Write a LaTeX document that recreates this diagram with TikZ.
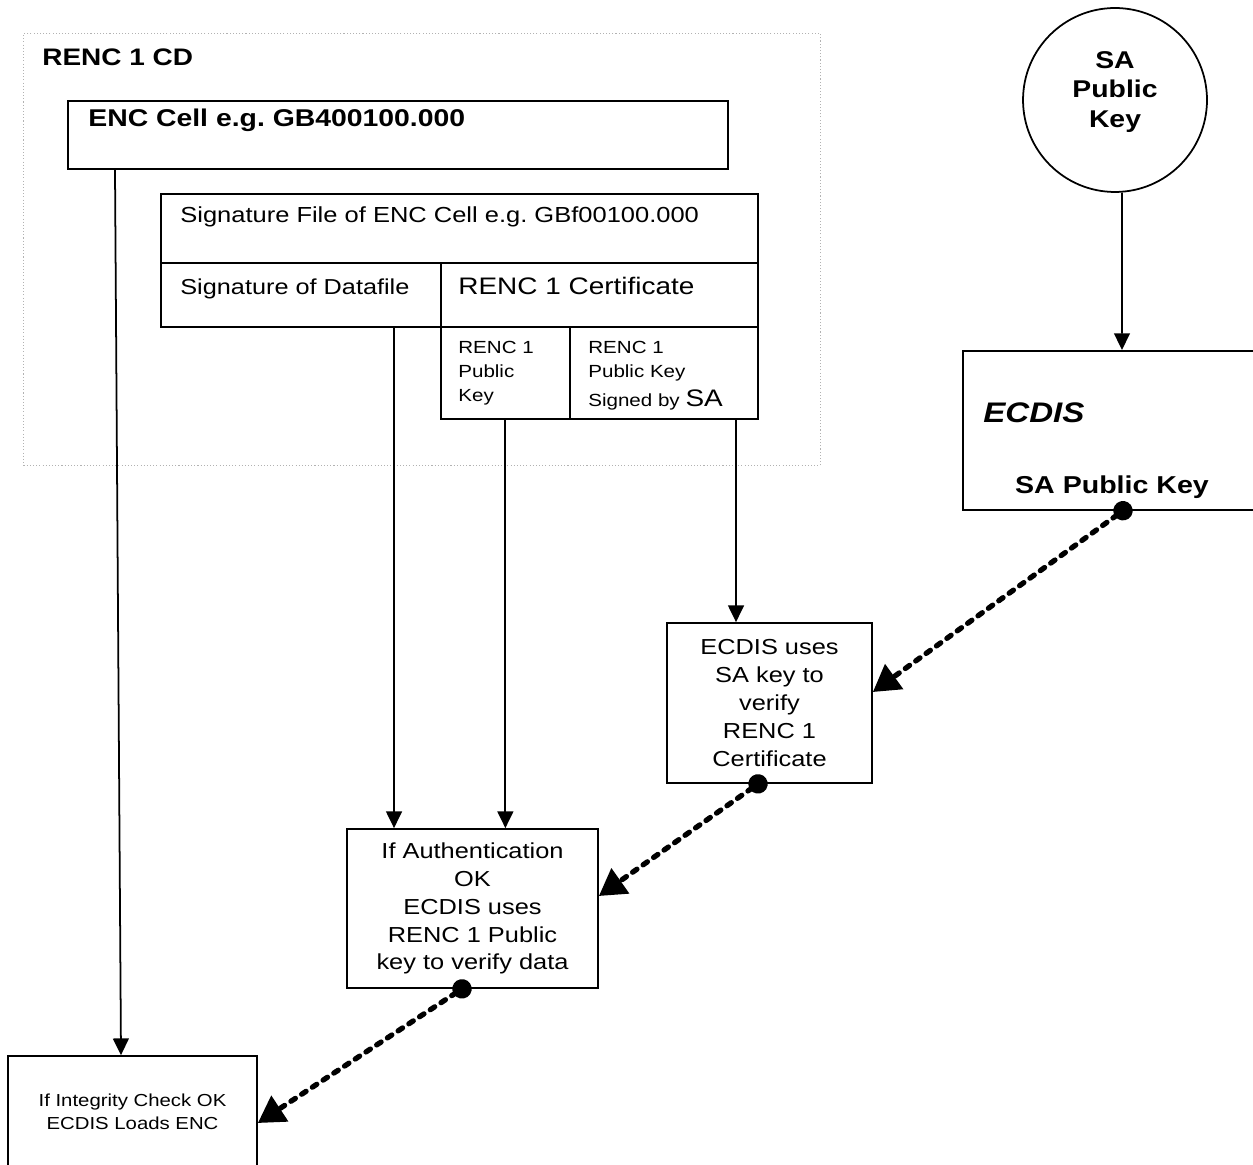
\documentclass[tikz,border=0pt]{standalone}
\usepackage{fontspec}
\setmainfont{Liberation Sans}[FakeStretch = 1.17]
\frenchspacing
\usetikzlibrary{arrows.meta}

\tikzset{
    box/.style = {draw, line width = 1pt, inner sep = 0pt, anchor = north west},
    cdbox/.style = {draw = gray!60, line width = 0.6pt, dash pattern = on 0.6pt off 1.2pt},
    txt/.style = {inner sep = 0pt, anchor = base west},
    arr/.style = {-{Triangle[length = 9.5pt, width = 9pt]}, line width = 1pt},
    dasharr/.style = {{Circle[length = 11pt]}-{Triangle[length = 15pt, width = 17pt]},
        line width = 3pt, dash pattern = on 3pt off 4.3pt, line cap = round, shorten <= -5.5pt}
}

\begin{document}
\begin{tikzpicture}[x = 0.02cm, y = -0.02cm]
        \useasboundingbox (0, 0) rectangle (1253, 1165);
        % the CD and its files
        \node[box, cdbox, minimum width = 15.94cm, minimum height = 8.64cm] (cd) at (23, 33) {};
        \node[txt, font = \fontsize{13.6}{16}\selectfont\bfseries] (cdtxt) at (42, 66) {RENC 1 CD};
        \node[box, minimum width = 13.2cm, minimum height = 1.36cm] (enc) at (67, 100) {};
        \node[txt, font = \fontsize{13.8}{16}\selectfont\bfseries] (enctxt) at (88, 127) {ENC Cell e.g. GB400100.000};
        \node[box, minimum width = 11.94cm, minimum height = 1.38cm] (sigfile) at (160, 193) {};
        \node[txt, font = \fontsize{12.4}{15}\selectfont] (sigfiletxt) at (180, 223) {Signature File of ENC Cell e.g. GBf00100.000};
        \node[box, minimum width = 5.6cm, minimum height = 1.28cm] (sigdata) at (160, 262) {};
        \node[txt, font = \fontsize{12.3}{15}\selectfont] (sigdatatxt) at (180, 295) {Signature of Datafile};
        \node[box, minimum width = 6.34cm, minimum height = 1.28cm] (cert) at (440, 262) {};
        \node[txt, font = \fontsize{13.6}{16}\selectfont] (certtxt) at (458, 295) {RENC 1 Certificate};
        \node[box, minimum width = 2.58cm, minimum height = 1.84cm] (pubkey) at (440, 326) {};
        \node[txt, anchor = north west, align = left, font = \fontsize{10}{13.6}\selectfont] (pubkeytxt) at (458, 341) {RENC 1\\Public\\Key};
        \node[box, minimum width = 3.76cm, minimum height = 1.84cm] (signedkey) at (569, 326) {};
        \node[txt, anchor = north west, align = left, font = \fontsize{10}{13.6}\selectfont] (signedtxt) at (588, 341)
            {RENC 1\\Public Key\\[3pt]Signed by {\fontsize{13.6}{13.6}\selectfont SA}};

        % SA key and ECDIS
        \node[circle, draw, line width = 1pt, minimum size = 3.68cm] (sakey) at (1115, 100) {};
        \node[inner sep = 0pt, align = center, font = \fontsize{13.8}{17}\selectfont\bfseries] (satxt) at (1115, 92) {SA\\Public\\Key};
        \node[box, minimum width = 6.1cm, minimum height = 3.18cm] (ecdis) at (962, 350) {};
        \node[txt, font = \fontsize{16.1}{19}\selectfont\bfseries\itshape] (ecdistxt) at (983, 422) {ECDIS};
        \node[txt, anchor = base, font = \fontsize{13.9}{17}\selectfont\bfseries] (ecdiskey) at (1112, 493) {SA Public Key};

        % checks
        \node[box, minimum width = 4.1cm, minimum height = 3.2cm, align = center, anchor = center,
            font = \fontsize{12.35}{15.9}\selectfont] (verifycert) at (769.5, 703)
            {ECDIS uses\\SA key to\\verify\\RENC 1\\Certificate};
        \node[box, minimum width = 5.02cm, minimum height = 3.18cm, align = center, anchor = center,
            font = \fontsize{12.35}{15.9}\selectfont] (auth) at (472.5, 908.5)
            {If Authentication\\OK\\ECDIS uses\\RENC 1 Public\\key to verify data};
        \node[box, minimum width = 4.98cm, minimum height = 2.24cm, align = center, anchor = center,
            font = \fontsize{9.9}{13}\selectfont] (loadenc) at (132.5, 1112)
            {If Integrity Check OK\\ECDIS Loads ENC};

        % connectors
        \draw[arr] ([xshift = 0.96cm]enc.south west) -- ([xshift = -0.23cm]loadenc.north);
        \draw[arr] ([xshift = 4.68cm]sigdata.south west) -- ([xshift = -1.57cm]auth.north);
        \draw[arr] (pubkey.south) -- (pubkey.south |- auth.north);
        \draw[arr] ([xshift = 3.34cm]signedkey.south west) -- ([xshift = -0.67cm]verifycert.north);
        \draw[arr] ([xshift = 0.14cm]sakey.south) -- ([xshift = 3.2cm]ecdis.north west);
        \draw[dasharr] ([xshift = 3.22cm]ecdis.south west) -- ([yshift = 0.22cm]verifycert.east);
        \draw[dasharr] ([xshift = -0.23cm]verifycert.south) -- ([yshift = 0.25cm]auth.east);
        \draw[dasharr] ([xshift = -0.21cm]auth.south) -- ([yshift = -0.22cm]loadenc.east);
\end{tikzpicture}
\end{document}
